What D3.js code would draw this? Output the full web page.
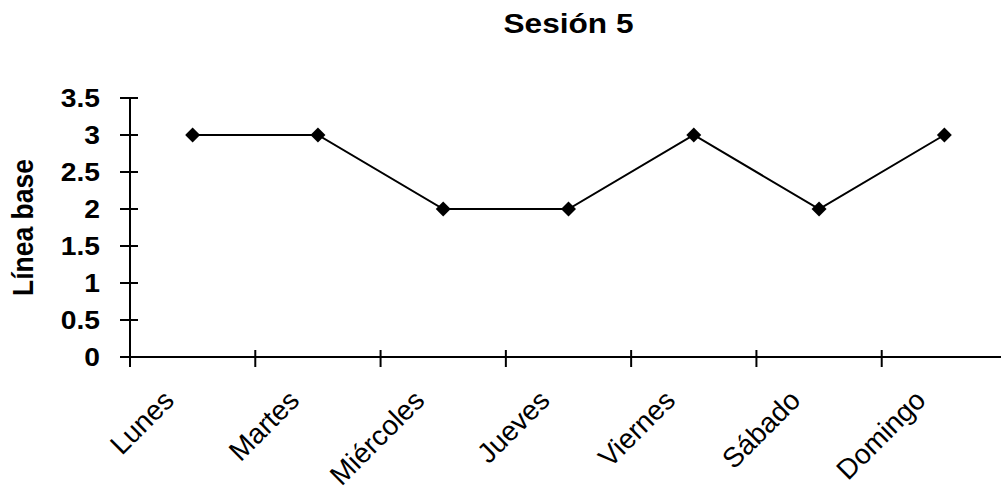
<!DOCTYPE html>
<html>
<head>
<meta charset="utf-8">
<script src="https://cdn.jsdelivr.net/npm/d3@7"></script>
<style>
  html, body { margin: 0; padding: 0; background: #fff; }
  svg { display: block; font-family: "Liberation Sans", Arial, sans-serif; }
</style>
</head>
<body>
<svg id="chart" width="1001" height="491"></svg>
<script>
// Session data
const days = ["Lunes", "Martes", "Miércoles", "Jueves", "Viernes", "Sábado", "Domingo"];
const values = [3, 3, 2, 2, 3, 2, 3];
const yTicks = [0, 0.5, 1, 1.5, 2, 2.5, 3, 3.5];
const chartTitle = "Sesión 5";
const yTitle = "Línea base";

const svg = d3.select("#chart");
const m = { left: 130, right: 1007, top: 98, bottom: 357 };
const wide = 1.13; // horizontal widening of the bold labels

const x = d3.scaleBand().domain(days).range([m.left, m.right]);
const y = d3.scaleLinear().domain([0, 3.5]).range([m.bottom, m.top]);

// Title
svg.append("text")
  .attr("transform", `translate(${(m.left + m.right) / 2},33) scale(${wide},1)`)
  .attr("text-anchor", "middle")
  .attr("font-weight", "bold")
  .attr("font-size", 28)
  .text(chartTitle);

// Y axis
const yAxis = svg.append("g").attr("transform", `translate(${m.left},0)`);
yAxis.append("line")
  .attr("x1", 0).attr("x2", 0)
  .attr("y1", y(3.5)).attr("y2", y(0))
  .attr("stroke", "#000").attr("stroke-width", 2);
yAxis.selectAll(".yt").data(yTicks).join("line")
  .attr("x1", -10).attr("x2", 8)
  .attr("y1", d => y(d)).attr("y2", d => y(d))
  .attr("stroke", "#000").attr("stroke-width", 2);
yAxis.selectAll(".yl").data(yTicks).join("text")
  .attr("transform", d => `translate(-30,${y(d)}) scale(${wide},1)`)
  .attr("dy", "0.36em")
  .attr("text-anchor", "end")
  .attr("font-weight", "bold")
  .attr("font-size", 25)
  .text(d => d3.format("")(d));

// Y axis title
svg.append("text")
  .attr("transform", `translate(33,${(m.top + m.bottom) / 2}) scale(${wide},1) rotate(-90)`)
  .attr("text-anchor", "middle")
  .attr("font-weight", "bold")
  .attr("font-size", 26.5)
  .text(yTitle);

// X axis
const xAxis = svg.append("g").attr("transform", `translate(0,${m.bottom})`);
xAxis.append("line")
  .attr("x1", m.left).attr("x2", m.right)
  .attr("stroke", "#000").attr("stroke-width", 2);
const bounds = days.map(d => x(d)).concat([m.right]);
xAxis.selectAll(".xt").data(bounds).join("line")
  .attr("x1", d => d).attr("x2", d => d)
  .attr("y1", -7).attr("y2", 10)
  .attr("stroke", "#000").attr("stroke-width", 2);
xAxis.selectAll(".xl").data(days).join("text")
  .attr("transform", d => `translate(${x(d) + x.bandwidth() / 2 - 17},45) rotate(-45)`)
  .attr("text-anchor", "end")
  .attr("font-size", 28)
  .text(d => d);

// Line and markers
const line = d3.line()
  .x((d, i) => x(days[i]) + x.bandwidth() / 2)
  .y(d => y(d));
svg.append("path")
  .datum(values)
  .attr("d", line)
  .attr("fill", "none")
  .attr("stroke", "#000")
  .attr("stroke-width", 2);

svg.selectAll(".pt").data(values).join("path")
  .attr("transform", (d, i) => `translate(${x(days[i]) + x.bandwidth() / 2},${y(d)}) rotate(45)`)
  .attr("d", d3.symbol(d3.symbolSquare, 112))
  .attr("fill", "#000");
</script>
</body>
</html>
